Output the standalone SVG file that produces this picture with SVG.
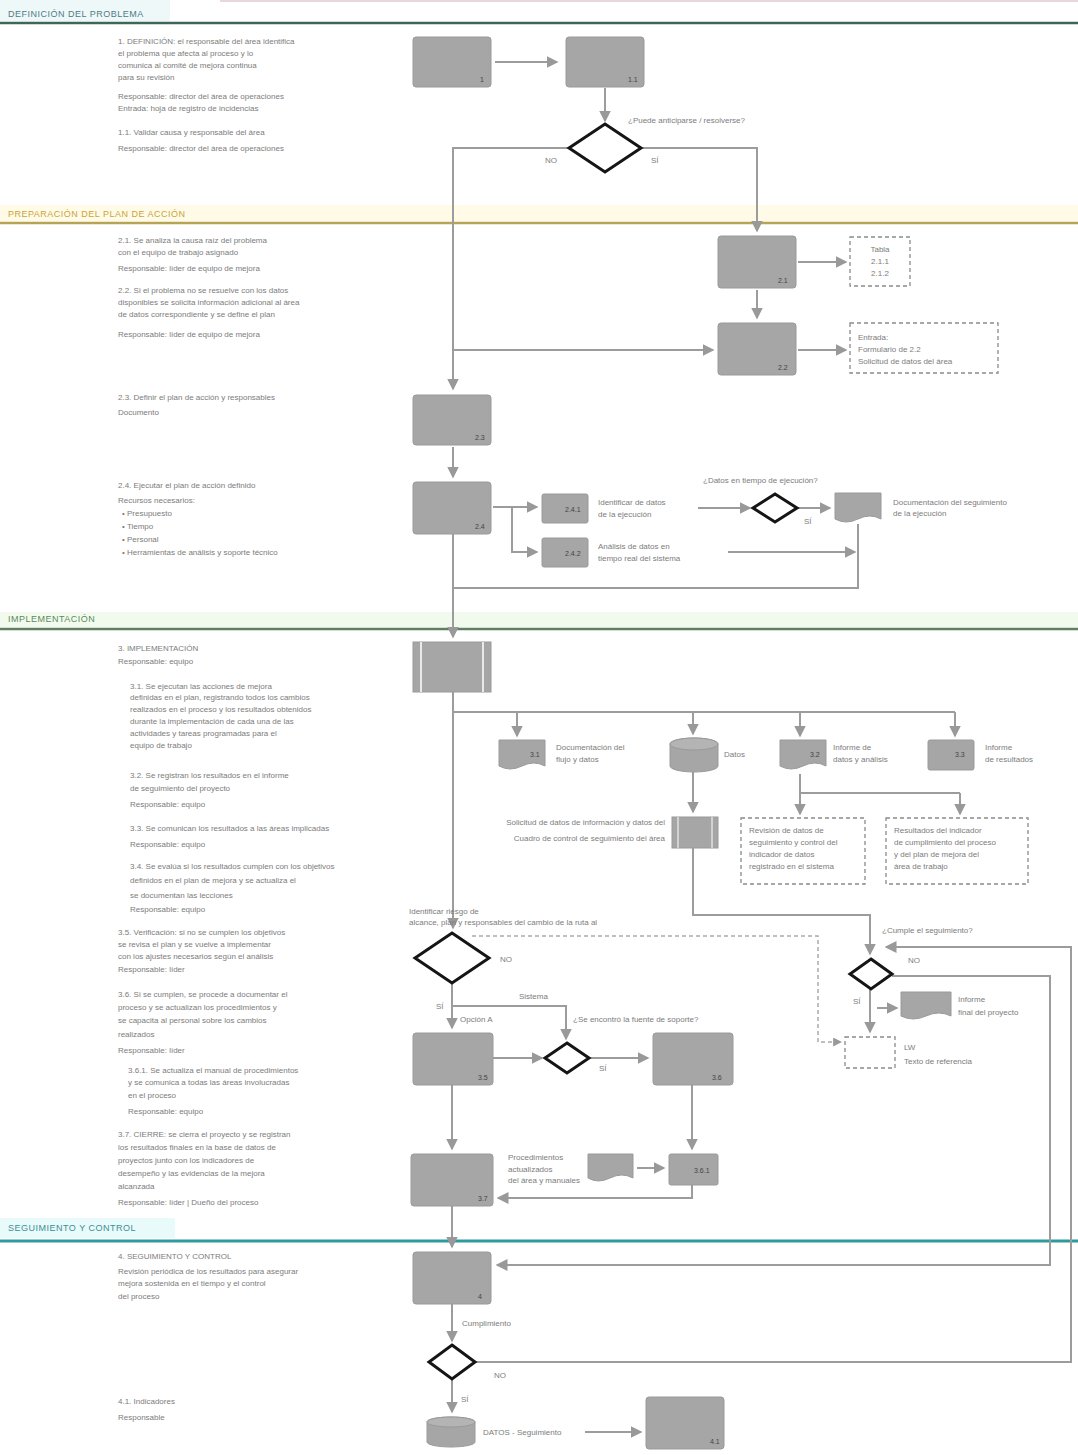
<svg xmlns="http://www.w3.org/2000/svg" width="1078" height="1455" viewBox="0 0 1078 1455">
<defs>
<marker id="ar" viewBox="0 0 8 8" refX="7" refY="4" markerWidth="6" markerHeight="6" orient="auto"><path d="M0,0 L8,4 L0,8 z" fill="#999"/></marker>
<style>
.t{font-family:"Liberation Sans",Arial,sans-serif;font-size:8px;fill:#7c7c7c}
.lb{font-family:"Liberation Sans",Arial,sans-serif;font-size:7px;fill:#444}
.hd{font-family:"Liberation Sans",Arial,sans-serif;font-size:9px;letter-spacing:0.5px}
.n{fill:#a6a6a6;stroke:#9a9a9a;stroke-width:1}
.d{fill:#fff;stroke:#151515;stroke-width:3}
.c{stroke:#9c9c9c;stroke-width:2;fill:none}
.ca{stroke:#9c9c9c;stroke-width:2;fill:none;marker-end:url(#ar)}
.cd{stroke:#aaa;stroke-width:1.5;fill:none;stroke-dasharray:4 3;marker-end:url(#ar)}
.db{fill:#fff;stroke:#8a8a8a;stroke-width:1.3;stroke-dasharray:4 3}
</style>
</defs>
<rect width="1078" height="1455" fill="#fff"/>

<g id="sections">
<line x1="220" y1="1" x2="1078" y2="1" stroke="#e8d8dc" stroke-width="2"/>
<rect x="0" y="0" width="170" height="21" fill="#eef8f8"/>
<text class="hd" x="8" y="17" fill="#4f7a84">DEFINICIÓN DEL PROBLEMA</text>
<line x1="0" y1="23" x2="1078" y2="23" stroke="#3f6657" stroke-width="2.5"/>
<rect x="0" y="205" width="1078" height="16" fill="#fffbe6"/>
<text class="hd" x="8" y="217" fill="#c9a43a">PREPARACIÓN DEL PLAN DE ACCIÓN</text>
<line x1="0" y1="223" x2="1078" y2="223" stroke="#b7a452" stroke-width="2.5"/>
<rect x="0" y="612" width="1078" height="15" fill="#f2faee"/>
<text class="hd" x="8" y="622" fill="#5c8a5c">IMPLEMENTACIÓN</text>
<line x1="0" y1="629" x2="1078" y2="629" stroke="#5e7f60" stroke-width="2.5"/>
<rect x="0" y="1218" width="175" height="20" fill="#e8fafa"/>
<text class="hd" x="8" y="1231" fill="#3d8e96">SEGUIMIENTO Y CONTROL</text>
<line x1="0" y1="1241" x2="1078" y2="1241" stroke="#2f9a9c" stroke-width="3"/>
</g>

<g id="notes">
<text class="t" x="118" y="44">1. DEFINICIÓN: el responsable del área identifica</text>
<text class="t" x="118" y="56">el problema que afecta al proceso y lo</text>
<text class="t" x="118" y="68">comunica al comité de mejora continua</text>
<text class="t" x="118" y="80">para su revisión</text>
<text class="t" x="118" y="99">Responsable: director del área de operaciones</text>
<text class="t" x="118" y="111">Entrada: hoja de registro de incidencias</text>
<text class="t" x="118" y="135">1.1. Validar causa y responsable del área</text>
<text class="t" x="118" y="151">Responsable: director del área de operaciones</text>

<text class="t" x="118" y="243">2.1. Se analiza la causa raíz del problema</text>
<text class="t" x="118" y="255">con el equipo de trabajo asignado</text>
<text class="t" x="118" y="271">Responsable: líder de equipo de mejora</text>
<text class="t" x="118" y="293">2.2. Si el problema no se resuelve con los datos</text>
<text class="t" x="118" y="305">disponibles se solicita información adicional al área</text>
<text class="t" x="118" y="317">de datos correspondiente y se define el plan</text>
<text class="t" x="118" y="337">Responsable: líder de equipo de mejora</text>
<text class="t" x="118" y="400">2.3. Definir el plan de acción y responsables</text>
<text class="t" x="118" y="415">Documento</text>
<text class="t" x="118" y="488">2.4. Ejecutar el plan de acción definido</text>
<text class="t" x="118" y="503">Recursos necesarios:</text>
<text class="t" x="122" y="516">• Presupuesto</text>
<text class="t" x="122" y="529">• Tiempo</text>
<text class="t" x="122" y="542">• Personal</text>
<text class="t" x="122" y="555">• Herramientas de análisis y soporte técnico</text>

<text class="t" x="118" y="651">3. IMPLEMENTACIÓN</text>
<text class="t" x="118" y="664">Responsable: equipo</text>
<text class="t" x="130" y="689">3.1. Se ejecutan las acciones de mejora</text>
<text class="t" x="130" y="700">definidas en el plan, registrando todos los cambios</text>
<text class="t" x="130" y="712">realizados en el proceso y los resultados obtenidos</text>
<text class="t" x="130" y="724">durante la implementación de cada una de las</text>
<text class="t" x="130" y="736">actividades y tareas programadas para el</text>
<text class="t" x="130" y="748">equipo de trabajo</text>
<text class="t" x="130" y="778">3.2. Se registran los resultados en el informe</text>
<text class="t" x="130" y="791">de seguimiento del proyecto</text>
<text class="t" x="130" y="807">Responsable: equipo</text>
<text class="t" x="130" y="831">3.3. Se comunican los resultados a las áreas implicadas</text>
<text class="t" x="130" y="847">Responsable: equipo</text>
<text class="t" x="130" y="869">3.4. Se evalúa si los resultados cumplen con los objetivos</text>
<text class="t" x="130" y="883">definidos en el plan de mejora y se actualiza el</text>
<text class="t" x="130" y="898">se documentan las lecciones</text>
<text class="t" x="130" y="912">Responsable: equipo</text>
<text class="t" x="118" y="935">3.5. Verificación: si no se cumplen los objetivos</text>
<text class="t" x="118" y="947">se revisa el plan y se vuelve a implementar</text>
<text class="t" x="118" y="959">con los ajustes necesarios según el análisis</text>
<text class="t" x="118" y="972">Responsable: líder</text>
<text class="t" x="118" y="997">3.6. Si se cumplen, se procede a documentar el</text>
<text class="t" x="118" y="1010">proceso y se actualizan los procedimientos y</text>
<text class="t" x="118" y="1023">se capacita al personal sobre los cambios</text>
<text class="t" x="118" y="1037">realizados</text>
<text class="t" x="118" y="1053">Responsable: líder</text>
<text class="t" x="128" y="1073">3.6.1. Se actualiza el manual de procedimientos</text>
<text class="t" x="128" y="1085">y se comunica a todas las áreas involucradas</text>
<text class="t" x="128" y="1098">en el proceso</text>
<text class="t" x="128" y="1114">Responsable: equipo</text>
<text class="t" x="118" y="1137">3.7. CIERRE: se cierra el proyecto y se registran</text>
<text class="t" x="118" y="1150">los resultados finales en la base de datos de</text>
<text class="t" x="118" y="1163">proyectos junto con los indicadores de</text>
<text class="t" x="118" y="1176">desempeño y las evidencias de la mejora</text>
<text class="t" x="118" y="1189">alcanzada</text>
<text class="t" x="118" y="1205">Responsable: líder | Dueño del proceso</text>

<text class="t" x="118" y="1259">4. SEGUIMIENTO Y CONTROL</text>
<text class="t" x="118" y="1274">Revisión periódica de los resultados para asegurar</text>
<text class="t" x="118" y="1286">mejora sostenida en el tiempo y el control</text>
<text class="t" x="118" y="1299">del proceso</text>
<text class="t" x="118" y="1404">4.1. Indicadores</text>
<text class="t" x="118" y="1420">Responsable</text>
</g>

<g id="connectors">
<path class="ca" d="M495,62 H557"/>
<path class="ca" d="M605,88 V121"/>
<path class="ca" d="M569,148 H453 V389"/>
<path class="ca" d="M453,350 H713"/>
<path class="ca" d="M641,148 H757 V231"/>
<path class="ca" d="M798,262 H846"/>
<path class="ca" d="M757,290 V318"/>
<path class="ca" d="M798,350 H846"/>
<path class="ca" d="M453,447 V477"/>
<path class="ca" d="M493,507 H537"/>
<path class="ca" d="M512,507 V552 H537"/>
<path class="ca" d="M698,508 H750"/>
<path class="ca" d="M797,508 H830"/>
<path class="ca" d="M728,552 H855"/>
<path class="c" d="M858,524 V588 H453"/>
<path class="ca" d="M453,534 V637"/>

<path class="ca" d="M453,692 V928"/>
<path class="c" d="M453,712 H955"/>
<path class="ca" d="M517,712 V736"/>
<path class="ca" d="M693,712 V734"/>
<path class="ca" d="M800,712 V736"/>
<path class="ca" d="M955,712 V736"/>
<path class="ca" d="M693,772 V812"/>
<path class="c" d="M800,774 V793 H960"/>
<path class="ca" d="M800,793 V814"/>
<path class="ca" d="M960,793 V814"/>
<path class="ca" d="M693,848 V915 H870 V954"/>
<path class="ca" d="M892,976 H1050 V1265 H497"/>
<path class="ca" d="M870,989 V1032"/>
<path class="ca" d="M877,1008 H897"/>
<path class="cd" d="M472,936 H818 V1042 H841"/>
<path class="ca" d="M452,983 V1028"/>
<path class="ca" d="M452,1006 H566 V1039"/>
<path class="ca" d="M493,1058 H542"/>
<path class="ca" d="M589,1058 H648"/>
<path class="ca" d="M452,1085 V1149"/>
<path class="ca" d="M692,1085 V1149"/>
<path class="ca" d="M637,1168 H664"/>
<path class="ca" d="M692,1185 V1198 H498"/>
<path class="ca" d="M452,1206 V1247"/>

<path class="ca" d="M452,1304 V1341"/>
<path class="ca" d="M475,1362 H1071 V947 H886"/>
<path class="ca" d="M452,1379 V1412"/>
<path class="ca" d="M585,1432 H641"/>
</g>

<g id="labels">
<text class="t" x="628" y="123">¿Puede anticiparse / resolverse?</text>
<text class="t" x="545" y="163">NO</text>
<text class="t" x="651" y="163">SÍ</text>
<text class="t" x="703" y="483">¿Datos en tiempo de ejecución?</text>
<text class="t" x="804" y="524">SÍ</text>
<text class="t" x="882" y="933">¿Cumple el seguimiento?</text>
<text class="t" x="908" y="963">NO</text>
<text class="t" x="853" y="1004">SÍ</text>
<text class="t" x="409" y="914">Identificar riesgo de</text>
<text class="t" x="409" y="925">alcance, plan y responsables del cambio de la ruta al</text>
<text class="t" x="500" y="962">NO</text>
<text class="t" x="436" y="1009">SÍ</text>
<text class="t" x="519" y="999">Sistema</text>
<text class="t" x="460" y="1022">Opción A</text>
<text class="t" x="573" y="1022">¿Se encontró la fuente de soporte?</text>
<text class="t" x="599" y="1071">SÍ</text>
<text class="t" x="462" y="1326">Cumplimiento</text>
<text class="t" x="494" y="1378">NO</text>
<text class="t" x="461" y="1402">SÍ</text>
</g>

<g id="n1"><rect class="n" x="413" y="37" width="78" height="50" rx="3"/><text class="lb" x="480" y="82">1</text></g>
<g id="n11"><rect class="n" x="566" y="37" width="78" height="50" rx="3"/><text class="lb" x="628" y="82">1.1</text></g>
<g id="dec1"><polygon class="d" points="605,124 641,148 605,172 569,148"/></g>

<g id="n21"><rect class="n" x="718" y="236" width="78" height="52" rx="3"/><text class="lb" x="778" y="283">2.1</text></g>
<g id="box1"><rect class="db" x="850" y="237" width="60" height="49"/><text class="t" x="880" y="252" text-anchor="middle">Tabla</text><text class="t" x="880" y="264" text-anchor="middle">2.1.1</text><text class="t" x="880" y="276" text-anchor="middle">2.1.2</text></g>
<g id="n22"><rect class="n" x="718" y="323" width="78" height="52" rx="3"/><text class="lb" x="778" y="370">2.2</text></g>
<g id="box2"><rect class="db" x="850" y="323" width="148" height="50"/><text class="t" x="858" y="340">Entrada:</text><text class="t" x="858" y="352">Formulario de 2.2</text><text class="t" x="858" y="364">Solicitud de datos del área</text></g>
<g id="n23"><rect class="n" x="413" y="395" width="78" height="50" rx="3"/><text class="lb" x="475" y="440">2.3</text></g>
<g id="n24"><rect class="n" x="413" y="482" width="78" height="52" rx="3"/><text class="lb" x="475" y="529">2.4</text></g>
<g id="n241"><rect class="n" x="542" y="494" width="46" height="29" rx="2"/><text class="lb" x="565" y="512">2.4.1</text><text class="t" x="598" y="505">Identificar de datos</text><text class="t" x="598" y="517">de la ejecución</text></g>
<g id="n242"><rect class="n" x="542" y="538" width="46" height="29" rx="2"/><text class="lb" x="565" y="556">2.4.2</text><text class="t" x="598" y="549">Análisis de datos en</text><text class="t" x="598" y="561">tiempo real del sistema</text></g>
<g id="dec2"><polygon class="d" points="775,494 797,508 775,522 753,508"/></g>
<g id="doc24"><path class="n" d="M835,493 H881 V519 Q870,513 858,519 T835,519 Z"/><text class="t" x="893" y="505">Documentación del seguimiento</text><text class="t" x="893" y="516">de la ejecución</text></g>

<g id="n3"><rect class="n" x="413" y="642" width="78" height="50"/><line x1="421" y1="642" x2="421" y2="692" stroke="#fff" stroke-width="1.5"/><line x1="483" y1="642" x2="483" y2="692" stroke="#fff" stroke-width="1.5"/></g>
<g id="doc31"><path class="n" d="M499,740 H545 V766 Q534,760 522,766 T499,766 Z"/><text class="lb" x="530" y="757">3.1</text><text class="t" x="556" y="750">Documentación del</text><text class="t" x="556" y="762">flujo y datos</text></g>
<g id="db3"><path class="n" d="M670,744 A24,6 0 0 1 718,744 V766 A24,6 0 0 1 670,766 Z"/><ellipse cx="694" cy="744" rx="24" ry="6" fill="#b4b4b4" stroke="#9a9a9a"/><text class="t" x="724" y="757">Datos</text></g>
<g id="doc32"><path class="n" d="M780,740 H826 V766 Q815,760 803,766 T780,766 Z"/><text class="lb" x="810" y="757">3.2</text><text class="t" x="833" y="750">Informe de</text><text class="t" x="833" y="762">datos y análisis</text></g>
<g id="n33"><rect class="n" x="928" y="740" width="46" height="30" rx="2"/><text class="lb" x="955" y="757">3.3</text><text class="t" x="985" y="750">Informe</text><text class="t" x="985" y="762">de resultados</text></g>
<g id="n34"><rect class="n" x="672" y="817" width="46" height="31"/><line x1="678" y1="817" x2="678" y2="848" stroke="#fff"/><line x1="712" y1="817" x2="712" y2="848" stroke="#fff"/><text class="t" x="665" y="825" text-anchor="end">Solicitud de datos de información y datos del</text><text class="t" x="665" y="841" text-anchor="end">Cuadro de control de seguimiento del área</text></g>
<g id="box3"><rect class="db" x="741" y="818" width="124" height="66"/><text class="t" x="749" y="833">Revisión de datos de</text><text class="t" x="749" y="845">seguimiento y control del</text><text class="t" x="749" y="857">indicador de datos</text><text class="t" x="749" y="869">registrado en el sistema</text></g>
<g id="box4"><rect class="db" x="886" y="818" width="142" height="66"/><text class="t" x="894" y="833">Resultados del indicador</text><text class="t" x="894" y="845">de cumplimiento del proceso</text><text class="t" x="894" y="857">y del plan de mejora del</text><text class="t" x="894" y="869">área de trabajo</text></g>
<g id="decQ"><polygon class="d" points="452,933 489,958 452,983 415,958"/></g>
<g id="n35"><rect class="n" x="413" y="1033" width="80" height="52" rx="3"/><text class="lb" x="478" y="1080">3.5</text></g>
<g id="decS"><polygon class="d" points="567,1043 589,1058 567,1073 545,1058"/></g>
<g id="n36"><rect class="n" x="653" y="1033" width="80" height="52" rx="3"/><text class="lb" x="712" y="1080">3.6</text></g>
<g id="n37"><rect class="n" x="411" y="1154" width="82" height="52" rx="3"/><text class="lb" x="478" y="1201">3.7</text></g>
<g id="doc361"><path class="n" d="M588,1154 H633 V1178 Q622,1172 610,1178 T588,1178 Z"/><text class="t" x="508" y="1160">Procedimientos</text><text class="t" x="508" y="1172">actualizados</text><text class="t" x="508" y="1183">del área y manuales</text></g>
<g id="n361"><rect class="n" x="669" y="1154" width="49" height="31" rx="2"/><text class="lb" x="694" y="1173">3.6.1</text></g>
<g id="decM"><polygon class="d" points="871,959 892,974 871,989 850,974"/></g>
<g id="docO"><path class="n" d="M901,992 H951 V1016 Q939,1010 926,1016 T901,1016 Z"/><text class="t" x="958" y="1002">Informe</text><text class="t" x="958" y="1015">final del proyecto</text></g>
<g id="boxP"><rect class="db" x="845" y="1037" width="50" height="31"/><text class="t" x="904" y="1050">LW</text><text class="t" x="904" y="1064">Texto de referencia</text></g>

<g id="n4"><rect class="n" x="413" y="1252" width="78" height="52" rx="3"/><text class="lb" x="478" y="1299">4</text></g>
<g id="decX"><polygon class="d" points="452,1345 475,1362 452,1379 429,1362"/></g>
<g id="db4"><path class="n" d="M427,1422 A24,5 0 0 1 475,1422 V1442 A24,5 0 0 1 427,1442 Z"/><ellipse cx="451" cy="1422" rx="24" ry="5" fill="#b4b4b4" stroke="#9a9a9a"/><text class="t" x="483" y="1435">DATOS - Seguimiento</text></g>
<g id="n41"><rect class="n" x="646" y="1397" width="78" height="52" rx="3"/><text class="lb" x="710" y="1444">4.1</text></g>
</svg>
